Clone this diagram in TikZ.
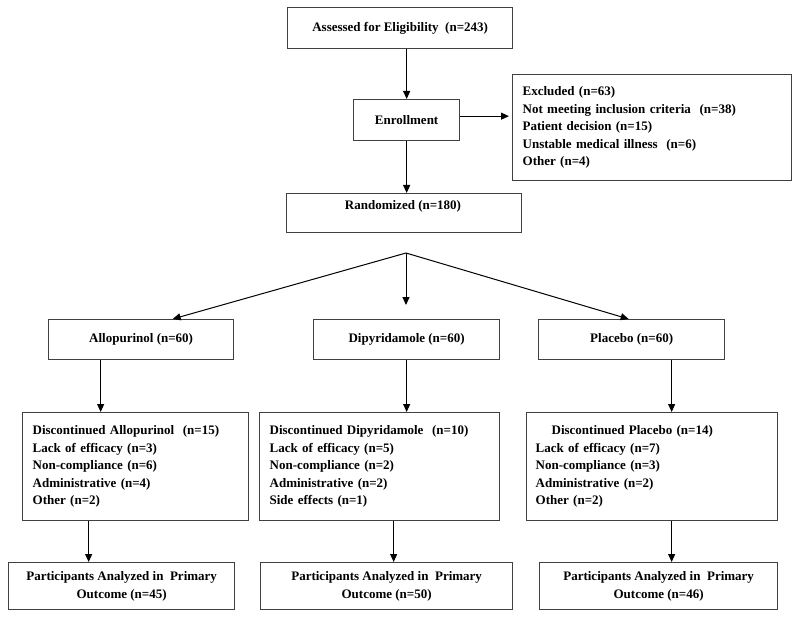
\documentclass[tikz,border=0pt]{standalone}
\usepackage{fontspec}
\setmainfont{Liberation Serif}
\usetikzlibrary{arrows.meta,calc}
\begin{document}
\begin{tikzpicture}[x=1pt,y=-1pt,
  every node/.style={font=\fontsize{13}{17.5}\selectfont\bfseries},
  box/.style={draw=black!75,line width=1.3pt,anchor=north west,inner sep=0pt,align=center},
  listbox/.style={box,inner xsep=10pt,align=left},
  arr/.style={black,line width=1pt,-{Triangle[length=8pt,width=7pt]}}]
\useasboundingbox[fill=white] (0,0) rectangle (800,620);
% boxes
\node[box,minimum width=225pt,minimum height=41pt] (assess) at (287,7) {Assessed for Eligibility\ \ (n=243)};
\node[box,minimum width=106pt,minimum height=41pt] (enroll) at (353,99) {Enrollment};
\node[listbox,minimum width=279pt,minimum height=106pt,text width=259pt] (excl) at (512,74)
 {Excluded (n=63)\\Not meeting inclusion criteria\ \ (n=38)\\Patient decision (n=15)\\Unstable medical illness\ \ (n=6)\\Other (n=4)};
\node[box,minimum width=235pt,minimum height=39pt] (rand) at (286,193) {};
\node (randt) at (403,206) {Randomized (n=180)};
\node[box,minimum width=185pt,minimum height=40pt] (allo) at (48,319) {Allopurinol (n=60)};
\node[box,minimum width=186pt,minimum height=40pt] (dipy) at (313,319) {Dipyridamole (n=60)};
\node[box,minimum width=186pt,minimum height=40pt] (plac) at (538,319) {Placebo (n=60)};
\node[listbox,minimum width=226pt,minimum height=108pt,text width=206pt] (dallo) at (22,412)
 {Discontinued Allopurinol\ \ (n=15)\\Lack of efficacy (n=3)\\Non-compliance (n=6)\\Administrative (n=4)\\Other (n=2)\\[3pt]};
\node[listbox,minimum width=240pt,minimum height=108pt,text width=220pt] (ddipy) at (259,412)
 {Discontinued Dipyridamole\ \ (n=10)\\Lack of efficacy (n=5)\\Non-compliance (n=2)\\Administrative (n=2)\\Side effects (n=1)\\[3pt]};
\node[listbox,minimum width=251pt,minimum height=108pt,text width=233pt,inner xsep=9pt] (dplac) at (526,412)
 {\hspace*{16pt}Discontinued Placebo (n=14)\\Lack of efficacy (n=7)\\Non-compliance (n=3)\\Administrative (n=2)\\Other (n=2)\\[3pt]};
\node[box,minimum width=226pt,minimum height=47pt] (pallo) at (8,562) {Participants Analyzed in\ \ Primary\\Outcome (n=45)};
\node[box,minimum width=252pt,minimum height=47pt] (pdipy) at (260,562) {Participants Analyzed in\ \ Primary\\Outcome (n=50)};
\node[box,minimum width=238pt,minimum height=47pt] (pplac) at (539,562) {Participants Analyzed in\ \ Primary\\Outcome (n=46)};
% connectors
\draw[arr] (assess.south -| enroll.north) -- (enroll.north);
\draw[arr,shorten >=3pt] ([yshift=4pt]enroll.east) -- ([yshift=4pt]enroll.east -| excl.west);
\draw[arr] (enroll.south) -- (enroll.south |- rand.north);
\coordinate (apex) at (406,253);
\coordinate (midtip) at (406,305);
\draw[arr] (apex) -- ([xshift=31.5pt]allo.north);
\draw[arr] (apex) -- (midtip);
\draw[arr] (apex) -- ([xshift=-3pt]plac.north);
\draw[arr] ([xshift=-40.5pt]allo.south) -- ([xshift=-40.5pt]allo.south |- dallo.north);
\draw[arr] (dipy.south) -- (dipy.south |- ddipy.north);
\draw[arr] ([xshift=40pt]plac.south) -- ([xshift=40pt]plac.south |- dplac.north);
\draw[arr] ([xshift=-47pt]dallo.south) -- ([xshift=-47pt]dallo.south |- pallo.north);
\draw[arr] ([xshift=14pt]ddipy.south) -- ([xshift=14pt]ddipy.south |- pdipy.north);
\draw[arr] ([xshift=19.5pt]dplac.south) -- ([xshift=19.5pt]dplac.south |- pplac.north);
\end{tikzpicture}
\end{document}
